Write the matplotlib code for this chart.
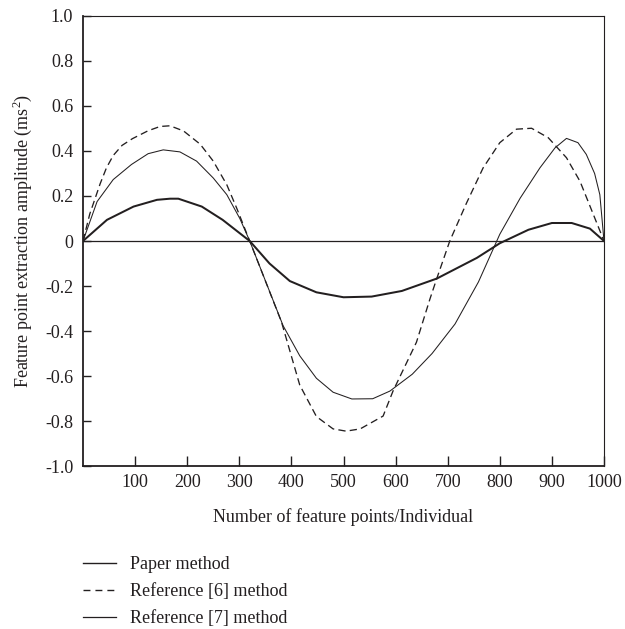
import matplotlib
matplotlib.use("Agg")
import matplotlib.pyplot as plt
from matplotlib.lines import Line2D
from matplotlib.ticker import FixedLocator, FixedFormatter

# ---- data ----
paper_x = [0, 27, 58, 93, 125, 154, 186, 218, 250, 276, 301, 320, 384, 416, 448,
           480, 516, 556, 589, 632, 670, 714, 759, 800, 839, 877, 906, 928, 950,
           966, 982, 992, 1000]
paper_y = [0, 0.175, 0.273, 0.34, 0.388, 0.405, 0.396, 0.355, 0.28, 0.206, 0.10,
           0, -0.376, -0.51, -0.61, -0.672, -0.702, -0.701, -0.667, -0.592,
           -0.50, -0.369, -0.182, 0.03, 0.19, 0.325, 0.414, 0.456, 0.437, 0.385,
           0.30, 0.206, 0.0]

ref6_x = [0, 13, 33, 45, 58, 75, 95, 125, 148, 167, 193, 225, 250, 276, 295, 320,
          381, 416, 448, 480, 505, 532, 576, 595, 640, 666, 679, 704, 736, 768,
          800, 832, 861, 893, 928, 954, 1000]
ref6_y = [0, 0.12, 0.255, 0.325, 0.38, 0.425, 0.455, 0.49, 0.509, 0.512, 0.489,
          0.43, 0.355, 0.25, 0.146, 0.0, -0.36, -0.64, -0.78, -0.835, -0.845,
          -0.835, -0.778, -0.667, -0.45, -0.257, -0.167, 0.0, 0.168, 0.325,
          0.437, 0.497, 0.501, 0.459, 0.37, 0.265, 0.0]

ref7_x = [0, 46, 97, 142, 167, 183, 228, 268, 320, 358, 397, 448, 500, 554, 612,
          679, 756, 800, 855, 900, 938, 973, 1000]
ref7_y = [0, 0.094, 0.153, 0.183, 0.188, 0.188, 0.153, 0.094, 0, -0.10, -0.178,
          -0.228, -0.25, -0.247, -0.222, -0.167, -0.075, -0.01, 0.05, 0.08, 0.08,
          0.055, 0]

labels = ["Paper method", "Reference [6] method", "Reference [7] method"]
x_ticks = [100, 200, 300, 400, 500, 600, 700, 800, 900, 1000]
x_tick_labels = ["100", "200", "300", "400", "500", "600", "700", "800", "900", "1000"]
y_ticks = [1.0, 0.8, 0.6, 0.4, 0.2, 0, -0.2, -0.4, -0.6, -0.8, -1.0]
y_tick_labels = ["1.0", "0.8", "0.6", "0.4", "0.2", "0", "-0.2", "-0.4", "-0.6", "-0.8", "-1.0"]
x_label = "Number of feature points/Individual"
y_label = "Feature point extraction amplitude (ms$^2$)"

# ---- style ----
INK = "#231f20"
plt.rcParams["font.family"] = ["Liberation Serif", "DejaVu Serif"]
plt.rcParams["mathtext.fontset"] = "custom"
plt.rcParams["mathtext.rm"] = "Liberation Serif"
FS = 13

fig = plt.figure(figsize=(6.25, 6.29), dpi=100)
ax = fig.add_axes([0.1328, 0.2591, 0.8336, 0.7155])

ax.axhline(0, color=INK, lw=0.9, zorder=1)
DASH = (0, (5.5, 3.2))
ax.plot(paper_x, paper_y, color=INK, lw=0.75)
ax.plot(ref6_x, ref6_y, color=INK, lw=0.95, linestyle=DASH)
ax.plot(ref7_x, ref7_y, color=INK, lw=1.45)

ax.set_xlim(0, 1000)
ax.set_ylim(-1.0, 1.0)
ax.xaxis.set_major_locator(FixedLocator(x_ticks))
ax.xaxis.set_major_formatter(FixedFormatter(x_tick_labels))
ax.yaxis.set_major_locator(FixedLocator(y_ticks))
ax.yaxis.set_major_formatter(FixedFormatter(y_tick_labels))
ax.tick_params(axis="x", direction="in", length=7.5, width=1.0, color=INK,
               labelsize=FS, labelcolor=INK, pad=6)
ax.tick_params(axis="y", direction="in", length=6, width=1.0, color=INK,
               labelsize=FS, labelcolor=INK, pad=7)

for side in ["left", "bottom"]:
    ax.spines[side].set_linewidth(1.3)
    ax.spines[side].set_color(INK)
for side in ["top", "right"]:
    ax.spines[side].set_linewidth(0.8)
    ax.spines[side].set_color(INK)

ax.set_xlabel(x_label, fontsize=FS, color=INK, labelpad=12)
ax.set_ylabel(y_label, fontsize=FS, color=INK, labelpad=8)

handles = [Line2D([], [], color=INK, lw=1.0),
           Line2D([], [], color=INK, lw=1.0, linestyle=(0, (5, 3.6))),
           Line2D([], [], color=INK, lw=0.9)]
fig.legend(handles=handles, labels=labels, loc="upper left",
           bbox_to_anchor=(0.1328, 0.1157), frameon=False, borderpad=0,
           borderaxespad=0, handlelength=1.85, handletextpad=0.75,
           labelspacing=0.55, fontsize=FS, labelcolor=INK)

fig.savefig("out.png", dpi=100)
